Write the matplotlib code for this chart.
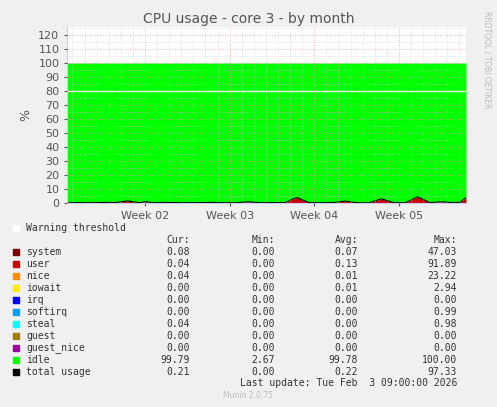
import matplotlib
matplotlib.use("Agg")
import matplotlib.pyplot as plt
import numpy as np

# data (days since start, total usage %)
spike_days = [0,2,4,5.5,6,6.5,7,11,11.5,12,13,14,15,16,17,18,20,21,22,23,24,25,26,27,28,29,30,31,32,33]
total_vals = [0.2,0.3,0.4,1.5,0.3,1.2,0.2,0.8,0.3,0.2,0.3,0.2,0.3,0.2,0.9,0.2,1.8,0.3,0.2,0.4,0.2,0.9,0.2,3.5,0.3,0.4,1.2,0.3,0.8,0.2]
days = [0,1,2,3,4,5,6,6.5,7,8,9,10,11,12,13,14,15,16,17,18,19,20,21,22,23,24,25,26,27,28,29,30,31,32,32.5,33]
total = [0.2,0.3,0.2,0.4,0.3,1.5,0.2,1.0,0.2,0.4,0.3,0.2,0.3,0.4,0.2,0.2,0.9,0.2,0.3,0.2,4.0,0.3,0.2,0.3,1.4,0.2,0.2,3.0,0.3,0.2,4.5,0.3,0.9,0.2,0.5,4.0]
week_ticks = [6.45, 13.45, 20.45, 27.45]
week_labels = ["Week 02", "Week 03", "Week 04", "Week 05"]

legend_rows = [
    ("system", "#7f0000", "0.08", "0.00", "0.07", "47.03"),
    ("user", "#cc0000", "0.04", "0.00", "0.13", "91.89"),
    ("nice", "#ff8c00", "0.04", "0.00", "0.01", "23.22"),
    ("iowait", "#ffee00", "0.00", "0.00", "0.01", "2.94"),
    ("irq", "#0000ff", "0.00", "0.00", "0.00", "0.00"),
    ("softirq", "#00a0ff", "0.00", "0.00", "0.00", "0.99"),
    ("steal", "#00ffff", "0.04", "0.00", "0.00", "0.98"),
    ("guest", "#a08000", "0.00", "0.00", "0.00", "0.00"),
    ("guest_nice", "#a000a0", "0.00", "0.00", "0.00", "0.00"),
    ("idle", "#00ff00", "99.79", "2.67", "99.78", "100.00"),
    ("total usage", "#000000", "0.21", "0.00", "0.22", "97.33"),
]

W, H = 497, 407
fig = plt.figure(figsize=(W/100, H/100), dpi=100, facecolor="#f0f0f0")
ax = fig.add_axes([67/W, 1-203/H, 399/W, (203-27)/H])
ax.set_facecolor("white")
days = np.array(days); total = np.array(total)
idle = 100 - total
ax.fill_between(days, 0, total, color="#cc0000", lw=0)
ax.fill_between(days, total, total + idle, color="#00ff00", lw=0)
ax.plot(days, total, color="black", lw=0.8)
ax.axhline(80, color="white", lw=1)
ax.set_xlim(0, 33)
ax.set_ylim(0, 125.7)
ax.set_yticks(range(0, 121, 10))
ax.set_yticks(range(0, 126, 5), minor=True)
ax.set_xticks(week_ticks)
ax.set_xticklabels(week_labels)
ax.set_xticks(np.arange(0.45, 33, 1), minor=True)
ax.grid(True, which="minor", color="#c8c8c8", ls=(0, (1, 2)), lw=0.5)
ax.grid(True, which="major", color="#e0a0a0", ls=(0, (1, 2)), lw=0.6)
ax.set_axisbelow(False)
for s in ["top", "right"]:
    ax.spines[s].set_visible(False)
ax.spines["left"].set_color("#ccccff")
ax.spines["bottom"].set_color("#ccccff")
ax.tick_params(which="both", length=2, colors="#555555", labelsize=8)
ax.tick_params(which="minor", length=0)
ax.set_ylabel("%", color="#555555", fontsize=9)
fig.text(0.5, 1-19/H, "CPU usage - core 3 - by month", ha="center", va="center", fontsize=10, color="#555555")
fig.text(487/W, 1-60/H, "RRDTOOL / TOBI OETIKER", rotation=270, ha="center", va="center", fontsize=5.5, color="#bbbbbb")

mono = dict(family="DejaVu Sans Mono", fontsize=7, color="#333333")
def T(x, y, s, ha="left"):
    fig.text(x/W, 1-y/H, s, ha=ha, va="center", **mono)
fig.patches.append(plt.Rectangle((13/W, 1-231/H), 6/W, 6/H, transform=fig.transFigure, color="white"))
T(26, 228, "Warning threshold")
T(190, 240, "Cur:", "right"); T(275, 240, "Min:", "right"); T(358, 240, "Avg:", "right"); T(457, 240, "Max:", "right")
for i, (n, c, cu, mi, av, mx) in enumerate(legend_rows):
    y = 252 + i * 12
    fig.patches.append(plt.Rectangle((13/W, 1-(y+3)/H), 6/W, 6/H, transform=fig.transFigure, color=c))
    T(26, y, n)
    T(190, y, cu, "right"); T(275, y, mi, "right"); T(358, y, av, "right"); T(457, y, mx, "right")
T(457, 383, "Last update: Tue Feb  3 09:00:00 2026", "right")
fig.text(248/W, 1-396/H, "Munin 2.0.75", ha="center", va="center", fontsize=5.5, color="#bbbbbb")
fig.savefig("out.png", dpi=100, facecolor=fig.get_facecolor())
